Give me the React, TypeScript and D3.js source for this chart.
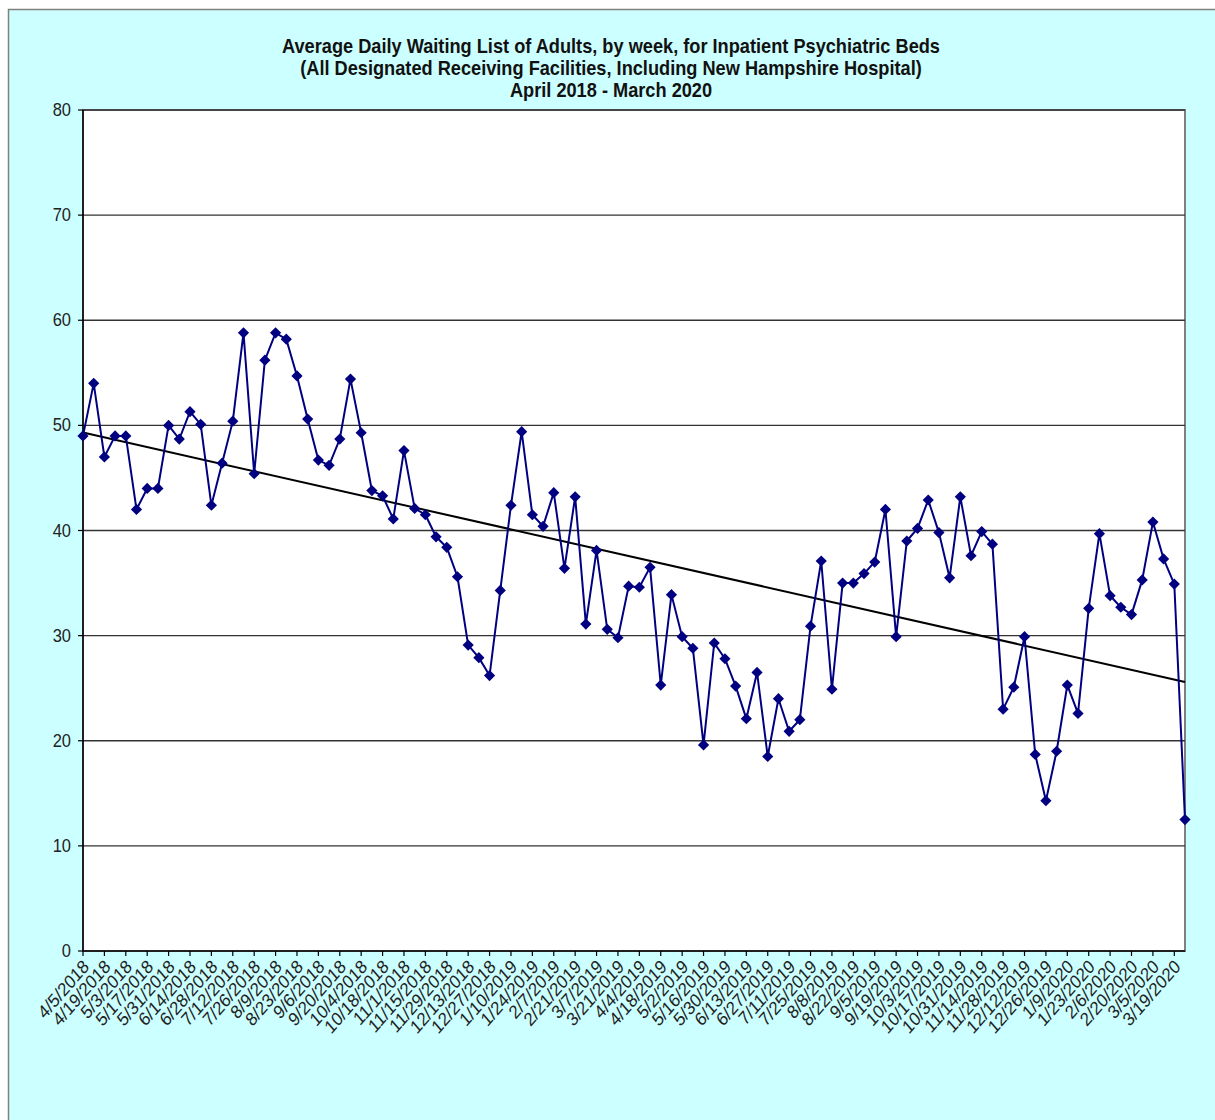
import React from "react";
import * as d3 from "d3";

const titleLines = [
  "Average Daily Waiting List of Adults, by week, for Inpatient Psychiatric Beds",
  "(All Designated Receiving Facilities, Including New Hampshire Hospital)",
  "April 2018 - March 2020",
];

const startDate = new Date(2018, 3, 5);
const weekCount = 104;

const waitingList = [
  49.0, 54.0, 47.0, 49.0, 49.0, 42.0, 44.0, 44.0, 50.0, 48.7,
  51.3, 50.1, 42.4, 46.4, 50.4, 58.8, 45.4, 56.2, 58.8, 58.2,
  54.7, 50.6, 46.7, 46.2, 48.7, 54.4, 49.3, 43.8, 43.3, 41.1,
  47.6, 42.1, 41.5, 39.4, 38.4, 35.6, 29.1, 27.9, 26.2, 34.3,
  42.4, 49.4, 41.5, 40.4, 43.6, 36.4, 43.2, 31.1, 38.1, 30.6,
  29.8, 34.7, 34.6, 36.5, 25.3, 33.9, 29.9, 28.8, 19.6, 29.3,
  27.8, 25.2, 22.1, 26.5, 18.5, 24.0, 20.9, 22.0, 30.9, 37.1,
  24.9, 35.0, 35.0, 35.9, 37.0, 42.0, 29.9, 39.0, 40.2, 42.9,
  39.8, 35.5, 43.2, 37.6, 39.9, 38.7, 23.0, 25.1, 29.9, 18.7,
  14.3, 19.0, 25.3, 22.6, 32.6, 39.7, 33.8, 32.7, 32.0, 35.3,
  40.8, 37.3, 34.9, 12.5,
];

const yTicks = [0, 10, 20, 30, 40, 50, 60, 70, 80];

const fmtDate = (d: Date) => `${d.getMonth() + 1}/${d.getDate()}/${d.getFullYear()}`;

export default function App() {
  const W = 1215, H = 1120;
  const left = 83, right = 1185, top = 110, bottom = 951;

  const dates = d3.range(weekCount).map((i) => d3.timeDay.offset(startDate, i * 7));
  const x = d3.scaleLinear().domain([0, weekCount - 1]).range([left, right]);
  const y = d3.scaleLinear().domain([0, 80]).range([bottom, top]);

  const pts = waitingList.map((v, i) => [i, v] as [number, number]);
  const line = d3.line<[number, number]>().x((d) => x(d[0])).y((d) => y(d[1]));

  // linear regression trend
  const n = pts.length;
  const mx = d3.mean(pts, (d) => d[0])!;
  const my = d3.mean(pts, (d) => d[1])!;
  const sxy = d3.sum(pts, (d) => (d[0] - mx) * (d[1] - my));
  const sxx = d3.sum(pts, (d) => (d[0] - mx) ** 2);
  const slope = sxy / sxx;
  const intercept = my - slope * mx;
  const trend: [number, number][] = [
    [0, intercept],
    [n - 1, intercept + slope * (n - 1)],
  ];

  const labelIdx = d3.range(0, weekCount, 2);
  const diamond = d3.symbol().type(d3.symbolDiamond2).size(80)()!;

  return (
    <svg width={W} height={H} style={{ position: "absolute", left: 0, top: 0 }} fontFamily="Arial, 'Liberation Sans', sans-serif">
      <rect x={0} y={0} width={W} height={H} fill="#ffffff" />
      <rect x={8.5} y={9.5} width={W + 10} height={H + 10} fill="#CCFFFF" stroke="#808080" strokeWidth={1.5} />
      {titleLines.map((t, i) => (
        <text key={i} transform={`translate(611,${53 + i * 22}) scale(0.91,1)`} textAnchor="middle" fontSize={20} fontWeight="bold" fill="#111">
          {t}
        </text>
      ))}
      <rect x={left} y={top} width={right - left} height={bottom - top} fill="#ffffff" stroke="#808080" strokeWidth={2} />
      {yTicks.map((t) => (
        <g key={t}>
          {t > 0 && <line x1={left} x2={right} y1={y(t)} y2={y(t)} stroke="#333" strokeWidth={1.4} />}
          <line x1={left - 5} x2={left} y1={y(t)} y2={y(t)} stroke="#000" strokeWidth={1.2} />
          <text transform={`translate(${left - 12},${y(t) + 6}) scale(1,1.08)`} textAnchor="end" fontSize={16.5} fill="#222">{t}</text>
        </g>
      ))}
      <line x1={left} x2={left} y1={top} y2={bottom} stroke="#000" strokeWidth={1.5} />
      <line x1={left} x2={right} y1={bottom} y2={bottom} stroke="#000" strokeWidth={1.5} />
      {labelIdx.map((i) => (
        <g key={i}>
          <line x1={x(i)} x2={x(i)} y1={bottom} y2={bottom + 5} stroke="#000" strokeWidth={1.2} />
          <text transform={`translate(${x(i) + 3},${bottom + 12}) scale(1,1.15) rotate(-45)`} textAnchor="end" fontSize={16.5} fill="#222" dy="0.35em">
            {fmtDate(dates[i])}
          </text>
        </g>
      ))}
      <path d={line(trend)!} fill="none" stroke="#000" strokeWidth={2} />
      <path d={line(pts)!} fill="none" stroke="#000080" strokeWidth={2} />
      {pts.map((d, i) => (
        <path key={i} d={diamond} transform={`translate(${x(d[0])},${y(d[1])})`} fill="#000080" />
      ))}
    </svg>
  );
}
